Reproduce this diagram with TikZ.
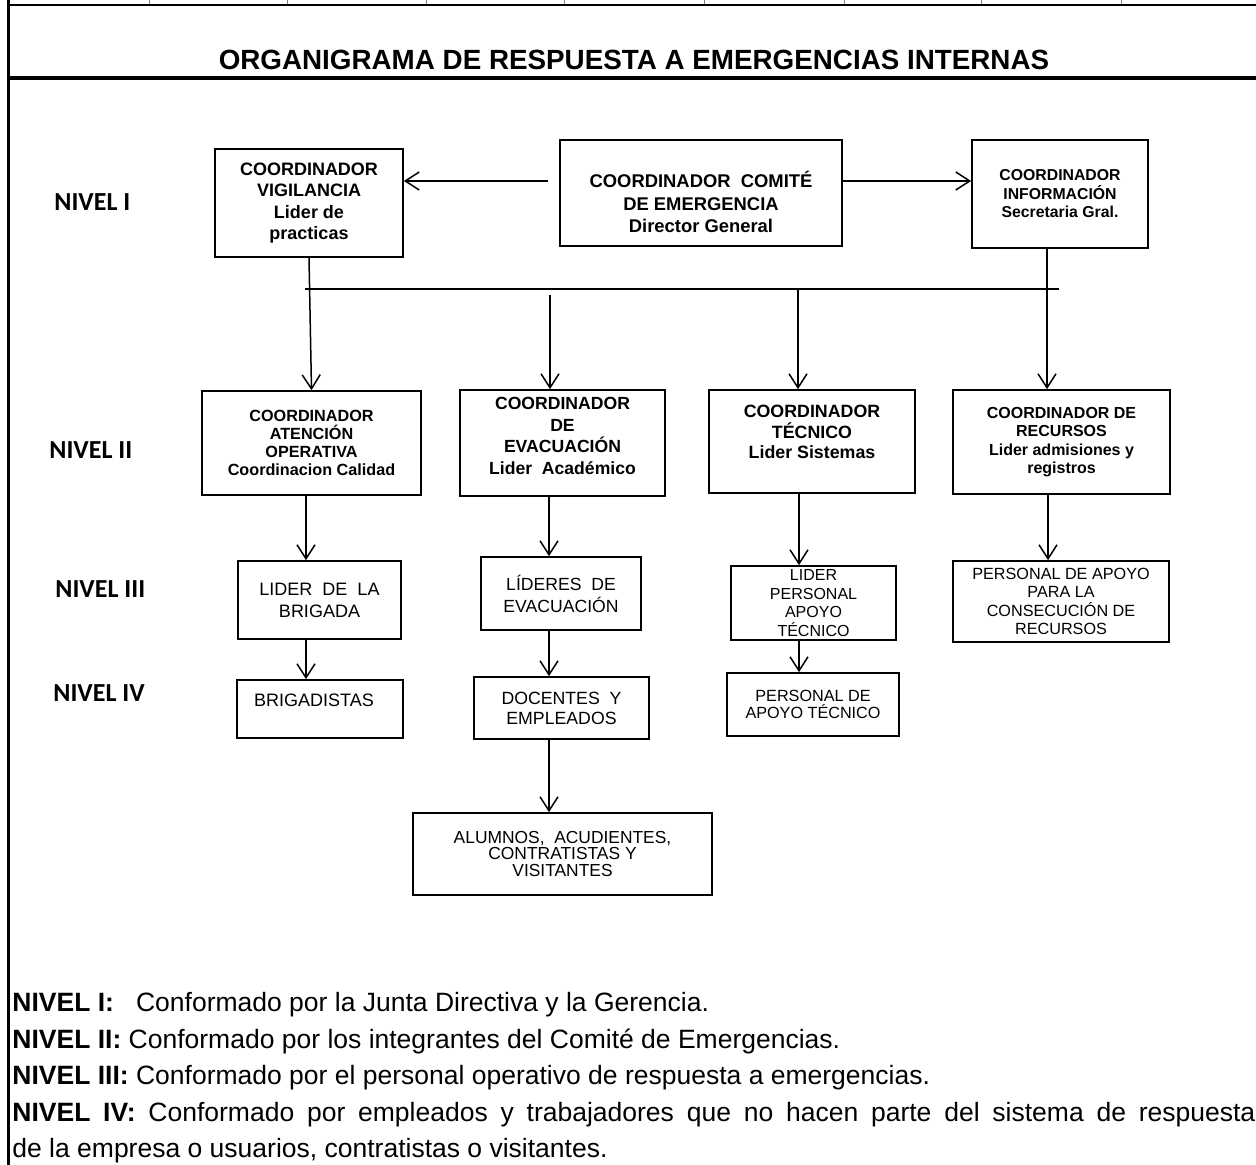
\documentclass[tikz,border=0pt]{standalone}
\usepackage{fontspec}
\setmainfont{Liberation Sans}
\newfontfamily\calibri{Carlito}
\usepackage{tikz}
\usetikzlibrary{arrows.meta}
\newcommand{\tam}[2]{\fontsize{#1}{#2}\selectfont}
\tikzset{
    caja/.style={draw, line width=0.85pt, inner sep=0pt, align=center}, % recuadro de cada cargo
    flecha/.style={-{Straight Barb[length=7pt, width=9pt]}, line width=0.75pt}, % conector con punta abierta
    nivel/.style={anchor=west, inner sep=0pt, font=\calibri\bfseries\tam{13}{15}} % rotulo de cada nivel
}

\begin{document}
\begin{tikzpicture}[x=0.5pt, y=-0.5pt]

    \useasboundingbox (0,0) rectangle (1256,1165);

    % marco de la hoja
    \draw[gray, line width=0.5pt] (149,0) -- (149,5) (287,0) -- (287,5) (426,0) -- (426,5) (564,0) -- (564,5)
        (704,0) -- (704,5) (844,0) -- (844,5) (981,0) -- (981,5) (1121,0) -- (1121,5);
    \draw[line width=1pt] (8,5) -- (1256,5);
    \draw[line width=1.5pt] (8,0) -- (8,1165);
    \draw[line width=1.75pt] (8,78) -- (1256,78);

    \node[font=\bfseries\tam{13.9}{16}] (titulo) at (634,60) {ORGANIGRAMA DE RESPUESTA A EMERGENCIAS INTERNAS};

    \node[nivel] (n1) at (54,202) {NIVEL I};
    \node[nivel] (n2) at (49,450) {NIVEL II};
    \node[nivel] (n3) at (55,589) {NIVEL III};
    \node[nivel] (n4) at (53,693) {NIVEL IV};

    % nivel I
    \node[caja, minimum width=94pt, minimum height=54pt, font=\bfseries\tam{9}{10.75}] (vig) at (309,203) {COORDINADOR\\VIGILANCIA\\Lider de\\practicas};
    \node[caja, minimum width=141pt, minimum height=53pt] (comite) at (701,193) {};
    \node[align=center, font=\bfseries\tam{9.2}{11.25}] (comite-txt) at (701,202) {COORDINADOR\ \ COMITÉ\\DE EMERGENCIA\\Director General};
    \node[caja, minimum width=88pt, minimum height=54pt, font=\bfseries\tam{7.9}{9.25}] (info) at (1060,194) {COORDINADOR\\INFORMACIÓN\\Secretaria Gral.};

    % nivel II
    \node[caja, minimum width=109.5pt, minimum height=52pt, font=\bfseries\tam{8.1}{9}] (aten) at (311.5,443) {COORDINADOR\\ATENCIÓN\\OPERATIVA\\Coordinacion Calidad};
    \node[caja, minimum width=102.5pt, minimum height=53pt] (evac) at (562.5,443) {};
    \node[align=center, font=\bfseries\tam{8.8}{10.75}] (evac-txt) at (562.5,436) {COORDINADOR\\DE\\EVACUACIÓN\\Lider\ \ Académico};
    \node[caja, minimum width=103pt, minimum height=51.5pt] (tecn) at (812,441.5) {};
    \node[align=center, font=\bfseries\tam{8.9}{10.25}] (tecn-txt) at (812,432) {COORDINADOR\\TÉCNICO\\Lider Sistemas};
    \node[caja, minimum width=108.5pt, minimum height=52pt, font=\bfseries\tam{8}{9.15}] (recu) at (1061.5,442) {COORDINADOR DE\\RECURSOS\\Lider admisiones y\\registros};

    % nivel III
    \node[caja, minimum width=81.5pt, minimum height=39pt, font=\tam{9}{11}] (brig) at (319.5,600) {LIDER\ \ DE\ \ LA\\BRIGADA};
    \node[caja, minimum width=80pt, minimum height=36.5pt, font=\tam{8.8}{11}] (lidev) at (561,593.5) {LÍDERES\ \ DE\\EVACUACIÓN};
    \node[caja, minimum width=82.5pt, minimum height=37pt, font=\tam{8}{9.25}] (lidpa) at (813.5,603) {LIDER\\PERSONAL\\APOYO\\TÉCNICO};
    \node[caja, minimum width=108pt, minimum height=40.5pt, font=\tam{8.1}{9.15}] (pacr) at (1061,601.5) {PERSONAL DE APOYO\\PARA LA\\CONSECUCIÓN DE\\RECURSOS};

    % nivel IV
    \node[caja, minimum width=83pt, minimum height=29pt] (brigad) at (320,709) {};
    \node[font=\tam{9}{11}] (brigad-txt) at (314,700) {BRIGADISTAS};
    \node[caja, minimum width=87.5pt, minimum height=31pt, font=\tam{8.85}{10}] (docem) at (561.5,708) {DOCENTES\ \ Y\\EMPLEADOS};
    \node[caja, minimum width=86pt, minimum height=31.5pt, font=\tam{8.1}{8.35}] (pat) at (813,704.5) {PERSONAL DE\\APOYO TÉCNICO};
    \node[caja, minimum width=149.5pt, minimum height=41pt, font=\tam{8.7}{8.25}] (alum) at (562.5,854) {ALUMNOS,\ \ ACUDIENTES,\\CONTRATISTAS Y\\VISITANTES};

    % conectores
    \coordinate (cI) at (548,181);
    \coordinate (busI) at (305,289);
    \coordinate (busD) at (1059,289);
    \coordinate (bB) at (550,295);
    \coordinate (bC) at (798,289);
    \coordinate (bD) at (1047,289);
    \coordinate (colA) at (306,0);
    \coordinate (colB) at (549,0);
    \coordinate (colC) at (799,0);
    \coordinate (colD) at (1048,0);

    \draw[flecha] (cI) -- (vig.east |- cI);
    \draw[flecha] (comite.east |- cI) -- (info.west |- cI);
    \draw[line width=0.75pt] (busI) -- (busD);
    \draw[flecha] (vig.south) -- (aten.north);
    \draw[flecha] (bB) -- (evac.north -| bB);
    \draw[flecha] (bC) -- (tecn.north -| bC);
    \draw[flecha] (info.south -| bD) -- (recu.north -| bD);

    \draw[flecha] (aten.south -| colA) -- (brig.north -| colA);
    \draw[flecha] (evac.south -| colB) -- (lidev.north -| colB);
    \draw[flecha] (tecn.south -| colC) -- (lidpa.north -| colC);
    \draw[flecha] (recu.south -| colD) -- (pacr.north -| colD);

    \draw[flecha] (brig.south -| colA) -- (brigad.north -| colA);
    \draw[flecha] (lidev.south -| colB) -- (docem.north -| colB);
    \draw[flecha] (lidpa.south -| colC) -- (pat.north -| colC);
    \draw[flecha] (docem.south -| colB) -- (alum.north -| colB);

    % descripcion de niveles
    \node[anchor=north west, inner sep=0pt, text width=621.5pt, align=justify, font=\tam{13.25}{18.25}] (leyenda) at (12,992) {\textbf{NIVEL I:}\ \ \ Conformado por la Junta Directiva y la Gerencia.\\
        \textbf{NIVEL II:} Conformado por los integrantes del Comité de Emergencias.\\
        \textbf{NIVEL III:} Conformado por el personal operativo de respuesta a emergencias.\\
        \textbf{NIVEL IV:} Conformado por empleados y trabajadores que no hacen parte del sistema de respuesta\linebreak
        de la empresa o usuarios, contratistas o visitantes.};

\end{tikzpicture}
\end{document}
